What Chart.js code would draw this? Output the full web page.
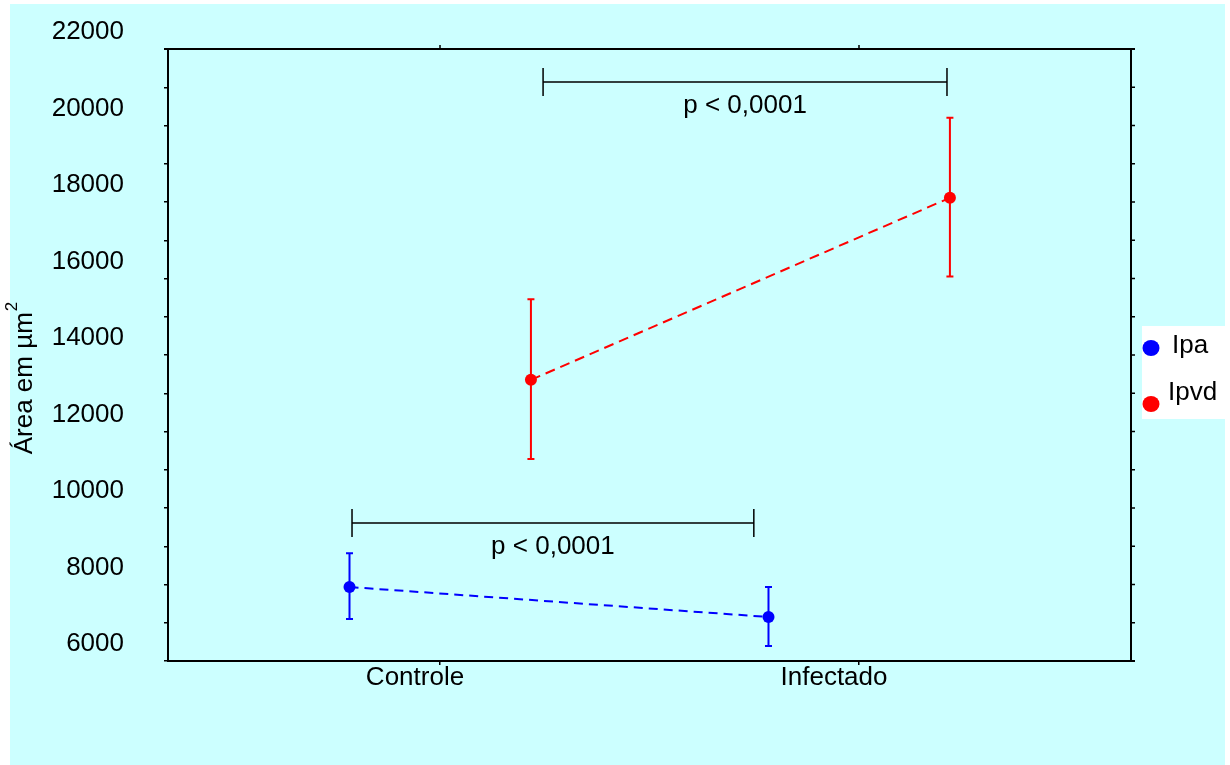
<!DOCTYPE html>
<html><head><meta charset="utf-8">
<script src="https://cdn.jsdelivr.net/npm/chart.js@4.4.0/dist/chart.umd.min.js"></script>
<style>html,body{margin:0;padding:0;background:#fff;} canvas{display:block;}</style>
</head><body>
<canvas id="c" width="1230" height="765"></canvas>
<script>
// ---------- data ----------
const categories = ['Controle', 'Infectado'];
const seriesNames = ['Ipa', 'Ipvd'];
const ipaMean = [7935, 7150];
const ipaLow = [7100, 6390];
const ipaHigh = [8820, 7935];
const ipvdMean = [13350, 18110];
const ipvdLow = [11280, 16050];
const ipvdHigh = [15460, 20200];
const yTickLabels = ['6000', '8000', '10000', '12000', '14000', '16000', '18000', '20000', '22000'];
const bracketFrom = [0.79, 1.246];
const bracketTo = [1.749, 2.21];
const bracketLevel = [9610, 21140];
const bracketText = ['p < 0,0001', 'p < 0,0001'];
const yTitle = 'Área em µm';
const yTitleSup = '2';

// ---------- styling ----------
const FONT = '"Liberation Sans", Arial, sans-serif';
const FS = 26;
const colors = ['#0000ff', '#ff0000'];
const seriesOffset = [-0.216, 0.217];
const means = [ipaMean, ipvdMean];
const lows = [ipaLow, ipvdLow];
const highs = [ipaHigh, ipvdHigh];

const datasets = seriesNames.map((name, s) => ({
  label: name,
  data: categories.map((c, i) => ({ x: i + 1 + seriesOffset[s], y: means[s][i] })),
  showLine: true,
  borderColor: colors[s],
  borderWidth: 2,
  borderDash: s === 0 ? [9, 6] : [10, 6],
  pointRadius: 6,
  pointBackgroundColor: colors[s],
  pointBorderWidth: 0,
  lows: lows[s],
  highs: highs[s]
}));

const deco = {
  id: 'deco',
  beforeDraw(chart) {
    const ctx = chart.ctx;
    ctx.save();
    ctx.fillStyle = '#ffffff';
    ctx.fillRect(0, 0, chart.width, chart.height);
    ctx.fillStyle = '#ccffff';
    ctx.fillRect(10, 4, 1215, 761);
    ctx.restore();
  },
  beforeDatasetsDraw(chart) {
    const ctx = chart.ctx;
    const xs = chart.scales.x, ys = chart.scales.y;
    ctx.save();
    // error bars
    chart.data.datasets.forEach((ds) => {
      ctx.strokeStyle = ds.borderColor;
      ctx.lineWidth = 2;
      ds.data.forEach((p, i) => {
        const px = xs.getPixelForValue(p.x);
        const y1 = ys.getPixelForValue(ds.lows[i]);
        const y2 = ys.getPixelForValue(ds.highs[i]);
        ctx.beginPath();
        ctx.moveTo(px, y1); ctx.lineTo(px, y2);
        ctx.moveTo(px - 3.5, y1); ctx.lineTo(px + 3.5, y1);
        ctx.moveTo(px - 3.5, y2); ctx.lineTo(px + 3.5, y2);
        ctx.stroke();
      });
    });
    // significance brackets
    ctx.strokeStyle = '#000';
    ctx.fillStyle = '#000';
    ctx.lineWidth = 1.5;
    ctx.font = FS + 'px ' + FONT;
    ctx.textAlign = 'center';
    ctx.textBaseline = 'middle';
    bracketText.forEach((t, k) => {
      const x1 = xs.getPixelForValue(bracketFrom[k]);
      const x2 = xs.getPixelForValue(bracketTo[k]);
      const y = ys.getPixelForValue(bracketLevel[k]);
      ctx.beginPath();
      ctx.moveTo(x1, y); ctx.lineTo(x2, y);
      ctx.moveTo(x1, y - 14); ctx.lineTo(x1, y + 14);
      ctx.moveTo(x2, y - 14); ctx.lineTo(x2, y + 14);
      ctx.stroke();
      ctx.fillText(t, (x1 + x2) / 2, y + 24);
    });
    ctx.restore();
  },
  afterDraw(chart) {
    const ctx = chart.ctx;
    const a = chart.chartArea;
    const xs = chart.scales.x, ys = chart.scales.y;
    ctx.save();
    ctx.strokeStyle = '#000';
    ctx.lineWidth = 2;
    ctx.beginPath();
    ctx.moveTo(a.left - 4, a.top); ctx.lineTo(a.right + 4, a.top);
    ctx.moveTo(a.right, a.top); ctx.lineTo(a.right, a.bottom);
    ctx.moveTo(a.right, a.bottom); ctx.lineTo(a.right + 4, a.bottom);
    ctx.stroke();
    ctx.lineWidth = 1.5;
    ctx.beginPath();
    ys.ticks.forEach(t => {
      const y = ys.getPixelForValue(t.value);
      ctx.moveTo(a.right, y); ctx.lineTo(a.right + 4, y);
    });
    xs.ticks.forEach(t => {
      const x = xs.getPixelForValue(t.value);
      ctx.moveTo(x, a.top); ctx.lineTo(x, a.top - 4);
    });
    ctx.stroke();

    // legend
    ctx.fillStyle = '#ffffff';
    ctx.fillRect(1142, 326, 83, 93);
    const lg = [{ dy: 348, ty: 346, tx: 1172 }, { dy: 404, ty: 393, tx: 1168 }];
    ctx.font = FS + 'px ' + FONT;
    ctx.textAlign = 'left';
    ctx.textBaseline = 'middle';
    chart.data.datasets.forEach((ds, s) => {
      ctx.fillStyle = ds.borderColor;
      ctx.beginPath();
      ctx.ellipse(1151, lg[s].dy, 8.5, 8, 0, 0, Math.PI * 2);
      ctx.fill();
      ctx.fillStyle = '#000';
      ctx.fillText(ds.label, lg[s].tx, lg[s].ty);
    });

    // y-axis title with superscript
    ctx.translate(25, 378);
    ctx.rotate(-Math.PI / 2);
    ctx.font = FS + 'px ' + FONT;
    const w1 = ctx.measureText(yTitle).width;
    ctx.font = '17px ' + FONT;
    const w2 = ctx.measureText(yTitleSup).width;
    const start = -(w1 + w2 + 1) / 2;
    ctx.textAlign = 'left';
    ctx.font = FS + 'px ' + FONT;
    ctx.fillText(yTitle, start, 0);
    ctx.font = '17px ' + FONT;
    ctx.fillText(yTitleSup, start + w1 + 1, -13);
    ctx.restore();
  }
};

new Chart(document.getElementById('c'), {
  type: 'scatter',
  data: { datasets },
  options: {
    responsive: false,
    animation: false,
    events: [],
    layout: { padding: { top: 49, right: 99, left: 0, bottom: 0 } },
    plugins: { legend: { display: false }, tooltip: { enabled: false } },
    scales: {
      x: {
        type: 'linear',
        min: 0.3508,
        max: 2.6492,
        afterBuildTicks: (s) => { s.ticks = categories.map((c, i) => ({ value: i + 1 })); },
        afterFit: (s) => { s.height = 104; s.paddingLeft = 0; s.paddingRight = 0; },
        ticks: {
          callback: (v, i) => categories[i],
          font: { family: FONT, size: FS },
          color: '#000',
          padding: -3,
          labelOffset: -25,
          maxRotation: 0,
          autoSkip: false
        },
        grid: { drawOnChartArea: false, drawTicks: true, tickLength: 4, color: '#000', lineWidth: 1.5 },
        border: { display: true, color: '#000', width: 2 }
      },
      y: {
        type: 'linear',
        min: 6000,
        max: 22000,
        afterBuildTicks: (s) => {
          const t = [];
          for (let v = 6000; v <= 22000; v += 1000) t.push({ value: v });
          s.ticks = t;
        },
        afterFit: (s) => { s.width = 168; s.paddingTop = 0; s.paddingBottom = 0; },
        ticks: {
          callback: (v) => (yTickLabels.includes(String(v)) ? String(v) : ''),
          font: { family: FONT, size: FS },
          color: '#000',
          padding: 40,
          labelOffset: -17,
          autoSkip: false
        },
        grid: { drawOnChartArea: false, drawTicks: true, tickLength: 4, color: '#000', lineWidth: 1.5 },
        border: { display: true, color: '#000', width: 2 }
      }
    }
  },
  plugins: [deco]
});
</script>
</body></html>
